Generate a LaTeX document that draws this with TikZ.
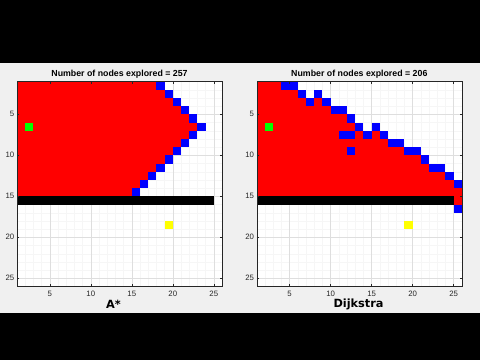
\documentclass[tikz,border=0pt]{standalone}
\usepackage{fontspec}
\setmainfont{Liberation Sans}
\newfontfamily\djv{DejaVu Sans}
\definecolor{figbg}{HTML}{F0F0F0}
\definecolor{axcol}{HTML}{262626}
\definecolor{gmaj}{HTML}{DEDEDE}
\definecolor{gmin}{HTML}{F6F6F6}
\definecolor{cred}{HTML}{FF0000}
\definecolor{cblue}{HTML}{0000FF}
\definecolor{cgreen}{HTML}{00FF00}
\definecolor{cyellow}{HTML}{FFFF00}
\tikzset{
  ticklab/.style={text=axcol, inner sep=0pt, font=\fontsize{7.8bp}{9bp}\selectfont},
  titlab/.style={text=black, inner sep=0pt, font=\fontsize{8.8bp}{10bp}\selectfont\bfseries},
  methlab/.style={text=black, inner sep=0pt, font=\djv\fontsize{11.3bp}{13bp}\selectfont\bfseries},
  panel/.style={x=8.2bp, y=-8.2bp},
  axline/.style={draw=axcol, line width=0.5bp}
}
\newcommand\axback{%
  \fill[white] (1,1) rectangle (26,26);
  \foreach \k in {2,...,25} \draw[gmin, line width=0.4bp] (\k,1) -- (\k,26) (1,\k) -- (26,\k);
  \foreach \k in {5,10,...,25} \draw[gmaj, line width=0.5bp] (\k,1) -- (\k,26) (1,\k) -- (26,\k);
}
\newcommand\axfront[1]{%
  \draw[axline] (1,1) rectangle (26,26);
  \foreach \k in {5,10,...,25} {
    \draw[axline] (\k,26) -- (\k,25.75) (\k,1) -- (\k,1.25) (1,\k) -- (1.25,\k) (26,\k) -- (25.75,\k);
    \node[ticklab, anchor=east] (#1y\k) at (0.68,\k) {\k};
    \node[ticklab, anchor=north] (#1x\k) at (\k,26.5) {\k};
  }
}
\begin{document}
\begin{tikzpicture}[x=1bp, y=-1bp]
\useasboundingbox (0,0) rectangle (480,360);
\fill[figbg] (0,0) rectangle (480,360);
\fill[black] (0,0) rectangle (480,63);
\fill[black] (0,313) rectangle (480,360);

% ---------- A* panel ----------
\begin{scope}[xshift=8.8bp, yshift=-73.3bp, panel]
  \axback
  \foreach \r/\e in {1/17,2/18,3/19,4/20,5/21,6/22,7/21,8/20,9/19,10/18,11/17,12/16,13/15,14/14} {
    \fill[cred] (1,\r) rectangle (\e+1,\r+1);
    \fill[cblue] (\e+1,\r) rectangle (\e+2,\r+1);
  }
  \fill[black] (1,15) rectangle (25,16);
  \fill[cgreen] (2,6) rectangle (3,7);
  \fill[cyellow] (19,18) rectangle (20,19);
  \axfront{a}
\end{scope}

% ---------- Dijkstra panel ----------
\begin{scope}[xshift=248.6bp, yshift=-73.3bp, panel]
  \axback
  \foreach \r/\a/\b in {1/1/3,2/1/5,3/1/6,3/8/8,4/1/9,5/1/11,6/1/12,7/1/10,7/13/13,7/15/15,8/1/16,9/1/18,10/1/20,11/1/21,12/1/23,13/1/24,14/1/25,15/25/25}
    \fill[cred] (\a,\r) rectangle (\b+1,\r+1);
  \foreach \r/\a/\b in {1/4/5,2/6/6,2/8/8,3/7/7,3/9/9,4/10/11,5/12/12,6/13/13,6/15/15,7/11/12,7/14/14,7/16/16,8/17/18,9/12/12,9/19/20,10/21/21,11/22/23,12/24/24,13/25/25,16/25/25}
    \fill[cblue] (\a,\r) rectangle (\b+1,\r+1);
  \fill[black] (1,15) rectangle (25,16);
  \fill[cgreen] (2,6) rectangle (3,7);
  \fill[cyellow] (19,18) rectangle (20,19);
  \axfront{d}
\end{scope}

\node[titlab] (tA) at (119.5,74) {Number of nodes explored = 257};
\node[titlab] (tD) at (359.3,74) {Number of nodes explored = 206};
\node[methlab] (mA) at (113.5,304) {A*};
\node[methlab] (mD) at (358.5,304) {Dijkstra};
\end{tikzpicture}
\end{document}
